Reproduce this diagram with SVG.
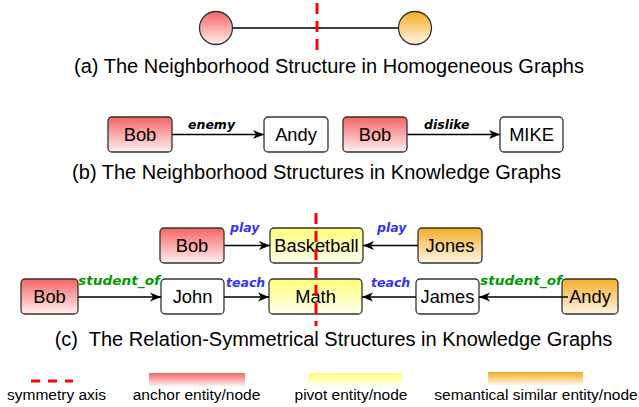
<svg xmlns="http://www.w3.org/2000/svg" width="639" height="407" viewBox="0 0 639 407">
<defs>
<linearGradient id="gA" x1="0" y1="0" x2="0" y2="1"><stop offset="0" stop-color="#f56464"/><stop offset="1" stop-color="#fff0f0"/></linearGradient>
<linearGradient id="gP" x1="0" y1="0" x2="0" y2="1"><stop offset="0" stop-color="#ffff7a"/><stop offset="1" stop-color="#fffff0"/></linearGradient>
<linearGradient id="gS" x1="0" y1="0" x2="0" y2="1"><stop offset="0" stop-color="#f5ad27"/><stop offset="1" stop-color="#fff6e6"/></linearGradient>
<marker id="arr" markerUnits="userSpaceOnUse" markerWidth="12" markerHeight="10" refX="11" refY="5" orient="auto"><path d="M0,0.5 L11,5 L0,9.5 L3,5 z" fill="#000"/></marker>
<style>
.box{stroke:#333;stroke-width:1.3}
.w{fill:#fff}
.a{fill:url(#gA)}
.p{fill:url(#gP)}
.s{fill:url(#gS)}
.nt{font-family:"Liberation Sans",Arial,sans-serif;font-size:18.3px;fill:#000;text-anchor:middle}
.cap{font-family:"Liberation Sans",Arial,sans-serif;font-size:20px;fill:#000;text-anchor:middle}
.lg{font-family:"Liberation Sans",Arial,sans-serif;font-size:15.5px;fill:#000;text-anchor:middle}
.el{font-family:"DejaVu Sans",Verdana,sans-serif;font-size:12.5px;font-weight:bold;font-style:italic}
.blk{fill:#000}.blu{fill:#3333ff}.grn{fill:#009900}
.edge{stroke:#000;stroke-width:1.3;fill:none;marker-end:url(#arr)}
.axis{stroke:#ff0000;stroke-width:3;stroke-dasharray:11 7;fill:none}
</style>
</defs>
<rect width="639" height="407" fill="#fff"/>

<!-- (a) -->
<g id="connectors-a"><line x1="232" y1="28" x2="399" y2="28" stroke="#000" stroke-width="1.3"/></g>
<g id="a-anchor"><circle class="box a" cx="216" cy="28" r="16.5"/></g>
<g id="a-similar"><circle class="box s" cx="415" cy="28" r="16.5"/></g>
<line class="axis" x1="317" y1="3" x2="317" y2="50"/>
<text class="cap" x="329" y="72.5">(a) The Neighborhood Structure in Homogeneous Graphs</text>

<!-- (b) -->
<g id="connectors-b">
<line class="edge" x1="172" y1="134.5" x2="264" y2="134.5"/>
<line class="edge" x1="407" y1="134.5" x2="500" y2="134.5"/>
<text class="el blk" x="188" y="129">enemy</text>
<text class="el blk" x="424" y="129">dislike</text>
</g>
<g id="b-bob1"><rect class="box a" x="108" y="117" width="64" height="35" rx="4"/><text class="nt" x="140" y="141">Bob</text></g>
<g id="b-andy"><rect class="box w" x="264" y="117" width="64" height="35" rx="4"/><text class="nt" x="296" y="141">Andy</text></g>
<g id="b-bob2"><rect class="box a" x="343" y="117" width="64" height="35" rx="4"/><text class="nt" x="375" y="141">Bob</text></g>
<g id="b-mike"><rect class="box w" x="500" y="117" width="63" height="35" rx="4"/><text class="nt" x="531.5" y="141">MIKE</text></g>
<text class="cap" x="316.5" y="179">(b) The Neighborhood Structures in Knowledge Graphs</text>

<!-- (c) -->
<g id="c-bob1"><rect class="box a" x="160" y="228" width="64" height="35" rx="4"/><text class="nt" x="192" y="252">Bob</text></g>
<g id="c-basketball"><rect class="box p" x="270" y="228" width="93" height="35" rx="4"/><text class="nt" x="316.5" y="252">Basketball</text></g>
<g id="c-jones"><rect class="box s" x="418" y="228" width="64" height="35" rx="4"/><text class="nt" x="450" y="252">Jones</text></g>
<g id="c-bob2"><rect class="box a" x="21" y="279" width="57" height="35" rx="4"/><text class="nt" x="49.5" y="303">Bob</text></g>
<g id="c-john"><rect class="box w" x="161" y="279" width="63" height="35" rx="4"/><text class="nt" x="192.5" y="303">John</text></g>
<g id="c-math"><rect class="box p" x="269" y="279" width="93" height="35" rx="4"/><text class="nt" x="315.5" y="303">Math</text></g>
<g id="c-james"><rect class="box w" x="416" y="279" width="63" height="35" rx="4"/><text class="nt" x="447.5" y="303">James</text></g>
<g id="c-andy"><rect class="box s" x="562" y="279" width="56" height="35" rx="4"/><text class="nt" x="590" y="303">Andy</text></g>

<g id="connectors-c">
<line class="edge" x1="224" y1="245.5" x2="270" y2="245.5"/>
<line class="edge" x1="418" y1="245.5" x2="363" y2="245.5"/>
<line class="edge" x1="78" y1="297" x2="161" y2="297"/>
<line class="edge" x1="224" y1="297" x2="269" y2="297"/>
<line class="edge" x1="416" y1="297" x2="362" y2="297"/>
<line class="edge" x1="568" y1="297" x2="479" y2="297"/>
<text class="el blu" x="230" y="231.5">play</text>
<text class="el blu" x="377" y="231.5">play</text>
<text class="el grn" x="78" y="285" textLength="82" lengthAdjust="spacingAndGlyphs">student_of</text>
<text class="el blu" x="226" y="287">teach</text>
<text class="el blu" x="371" y="287">teach</text>
<text class="el grn" x="480" y="285" textLength="82" lengthAdjust="spacingAndGlyphs">student_of</text>
</g>
<line class="axis" x1="316" y1="213" x2="316" y2="326"/>
<text class="cap" x="333.5" y="346" xml:space="preserve">(c)  The Relation-Symmetrical Structures in Knowledge Graphs</text>

<!-- legend -->
<g id="legend">
<line x1="31" y1="381" x2="73" y2="381" stroke="#ff0000" stroke-width="3" stroke-dasharray="9 8"/>
<text class="lg" x="56.5" y="399.5">symmetry axis</text>
<rect x="149" y="373" width="96" height="13" fill="url(#gA)"/>
<text class="lg" x="196.5" y="399.5">anchor entity/node</text>
<rect x="308" y="373" width="94" height="13" fill="url(#gP)"/>
<text class="lg" x="351" y="399.5">pivot entity/node</text>
<rect x="488" y="372" width="95" height="13" fill="url(#gS)"/>
<text class="lg" x="536" y="399.5">semantical similar entity/node</text>
</g>
</svg>
